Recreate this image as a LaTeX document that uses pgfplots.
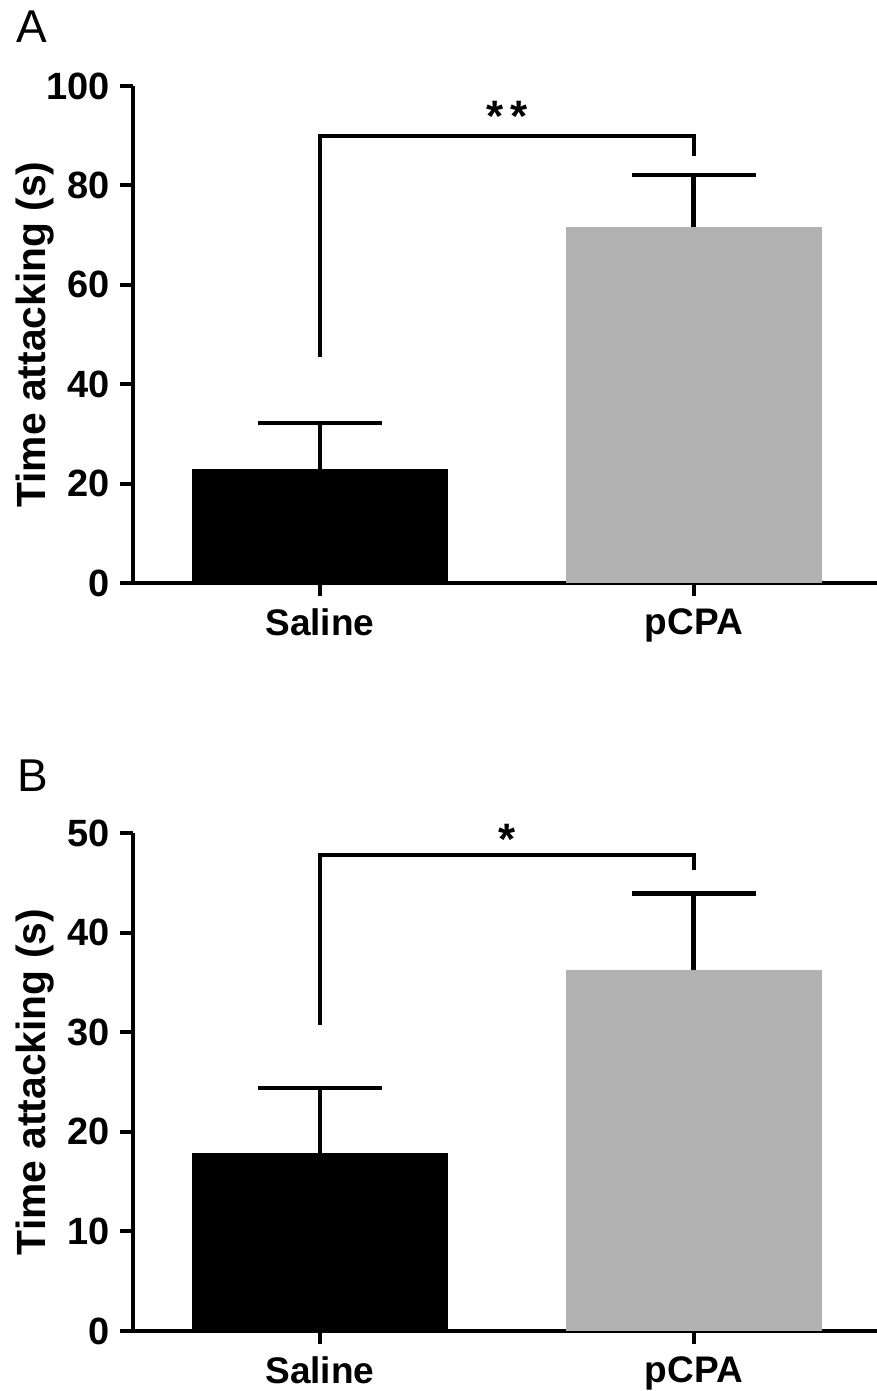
\documentclass[border=0pt]{standalone}
\usepackage{fontspec}
\setmainfont{Liberation Sans}
\usepackage{pgfplots}
\pgfplotsset{compat=1.18}
\definecolor{bargray}{RGB}{178,178,178}
\pgfplotsset{
  panel/.style={
    scale only axis,
    width=372pt,
    xmin=-0.5, xmax=1.49,
    ymin=0,
    axis x line=bottom, axis y line=left,
    axis line style={-, line width=2pt, black},
    tick align=outside,
    major tick length=6.5pt,
    tick style={line width=2pt, black},
    xtick={0,1}, xticklabels={Saline,pCPA},
    /pgf/number format/assume math mode=true,
    ticklabel style={font=\bfseries\fontsize{18.5}{20}\selectfont},
    yticklabel style={inner sep=0pt, xshift=-5pt, font=\bfseries\fontsize{19}{20}\selectfont},
    xticklabel style={inner sep=0pt, yshift=-6pt, anchor=north},
    ylabel={Time attacking (s)},
    ylabel style={font=\bfseries\fontsize{20.4}{22}\selectfont, at={(axis description cs:-0.1317,0.5)}, anchor=center},
    clip=false,
  },
  errb/.style={error bars/.cd, y dir=plus, y explicit,
    error bar style={line width=2.4pt, black},
    error mark options={rotate=90, mark size=31pt, line width=2.4pt, black}},
}
\begin{document}
\begin{tikzpicture}
\path[use as bounding box] (0,0) rectangle (438.5pt,695.5pt);
\node[anchor=base west, font=\fontsize{23}{25}\selectfont, inner sep=0pt] at (8pt,674pt) {A};
\node[anchor=base west, font=\fontsize{23}{25}\selectfont, inner sep=0pt] at (8.5pt,299.5pt) {B};
% Panel A
\begin{axis}[panel, at={(66.5pt,404pt)}, anchor=south west, height=248.5pt,
  ymax=100, ytick={0,20,40,60,80,100}]
\addplot[ybar, bar width=128pt, bar shift=0pt, fill=black, draw=none, errb]
  coordinates {(0,22.9) +- (0,9.3)};
\addplot[ybar, bar width=128pt, bar shift=0pt, fill=bargray, draw=none, errb]
  coordinates {(1,71.6) +- (0,10.5)};
\addplot[black, line width=2pt, no marks] coordinates {(0,45.5) (0,90) (1,90) (1,86)};
\node[font=\bfseries\fontsize{22}{24}\selectfont] at (axis cs:0.5,93.8) {*\hspace{3.5pt}*};
\end{axis}
% Panel B
\begin{axis}[panel, at={(66.5pt,30pt)}, anchor=south west, height=249pt,
  ymax=50, ytick={0,10,20,30,40,50}]
\addplot[ybar, bar width=128pt, bar shift=0pt, fill=black, draw=none, errb]
  coordinates {(0,17.9) +- (0,6.5)};
\addplot[ybar, bar width=128pt, bar shift=0pt, fill=bargray, draw=none, errb]
  coordinates {(1,36.2) +- (0,7.7)};
\addplot[black, line width=2pt, no marks] coordinates {(0,30.7) (0,47.8) (1,47.8) (1,46.3)};
\node[font=\bfseries\fontsize{22}{24}\selectfont] at (axis cs:0.5,49.4) {*};
\end{axis}
\end{tikzpicture}
\end{document}
